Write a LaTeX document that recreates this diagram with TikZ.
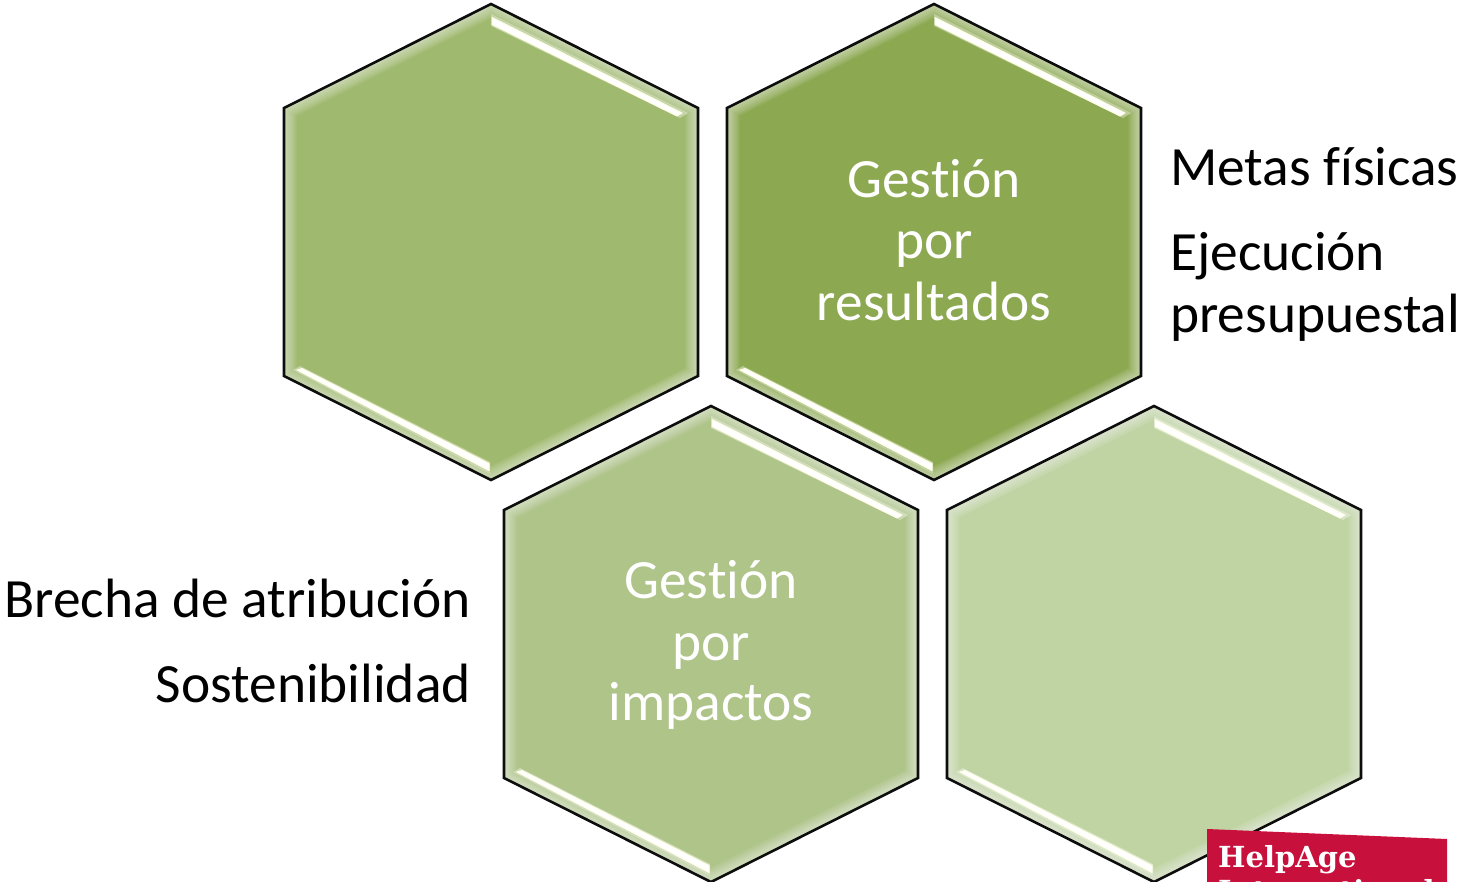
\documentclass[tikz,border=0pt]{standalone}
\usepackage{fontspec}
\setmainfont[Ligatures=NoCommon]{Carlito}
\newfontfamily\logofont{DejaVu Serif}
\definecolor{hexa}{HTML}{9FB96E}
\definecolor{hexb}{HTML}{8CA850}
\definecolor{hexc}{HTML}{AEC489}
\definecolor{hexd}{HTML}{BFD3A3}
\definecolor{logored}{HTML}{C8103C}
\newcommand{\hexshape}[3]{%
  \begin{scope}[shift={(#1,#2)}]
    \path[fill=#3] (0,0) -- (207,104) -- (207,372) -- (0,476) -- (-207,372) -- (-207,104) -- cycle;
    \begin{scope}
      \clip (0,0) -- (207,104) -- (207,372) -- (0,476) -- (-207,372) -- (-207,104) -- cycle;
      \foreach \w in {4,6,...,26}
        \draw[white,opacity=.05,line width=\w pt,line join=miter] (0,0) -- (207,104) -- (207,372) -- (0,476) -- (-207,372) -- (-207,104) -- cycle;
    \end{scope}
    \path[fill=#3!45!white,opacity=.7] (0,10) -- (197,109) -- (189,114) -- (0,22) -- cycle;
    \path[fill=#3!45!white,opacity=.7] (-198,366) -- (-191,362) -- (-1,458) -- (-1,470) -- cycle;
    \path[hilite] (1,13.5) -- (191,109) -- (186,112) -- (1,20.5) -- cycle;
    \path[hilite] (-194,366) -- (-189,364.5) -- (-2,459.5) -- (-2,466.5) -- cycle;
    \draw[hexline] (0,0) -- (207,104) -- (207,372) -- (0,476) -- (-207,372) -- (-207,104) -- cycle;
  \end{scope}}
\tikzset{
  x=1pt,y=-1pt,
  hexline/.style={draw=black!95,line width=2.6pt,line join=miter},
  hilite/.style={fill=white,draw=white!90!yellow,line width=1pt,line join=round},
  intext/.style={anchor=base,text=white,font=\fontsize{55.4}{55.4}\selectfont,inner sep=0pt},
  lefttext/.style={anchor=base west,text=black,font=\fontsize{55.4}{55.4}\selectfont,inner sep=0pt},
  righttext/.style={anchor=base east,text=black,font=\fontsize{55.4}{55.4}\selectfont,inner sep=0pt},
  logotext/.style={anchor=base west,text=white,inner sep=0pt,font=\logofont\bfseries\fontsize{29}{29}\selectfont}
}
\begin{document}
\begin{tikzpicture}
\useasboundingbox (0,0) rectangle (1461,882);
\begin{scope}
\clip (0,0) rectangle (1461,882);
\hexshape{491}{4}{hexa}
\hexshape{934}{4}{hexb}
\hexshape{711}{406}{hexc}
\hexshape{1154}{406}{hexd}
\path[fill=logored] (1207,829) -- (1447,839) -- (1447,882) -- (1207,882) -- cycle;
\node[logotext] (logoa) at (1218,867) {HelpAge};
\node[logotext] (logob) at (1218,901) {International};
\end{scope}
\node[intext] (gra) at (934,198) {Gestión};
\node[intext] (grb) at (934,259) {por};
\node[intext] (grc) at (934,321) {resultados};
\node[intext] (gia) at (711,598.5) {Gestión};
\node[intext] (gib) at (711,660) {por};
\node[intext] (gic) at (711,720.5) {impactos};
\node[lefttext] (meta) at (1170,186) {Metas físicas};
\node[lefttext] (ejec) at (1170,271) {Ejecución};
\node[lefttext] (pres) at (1170,333) {presupuestal};
\node[righttext] (brec) at (471,617) {Brecha de atribución};
\node[righttext] (sost) at (471,702) {Sostenibilidad};
\end{tikzpicture}
\end{document}
